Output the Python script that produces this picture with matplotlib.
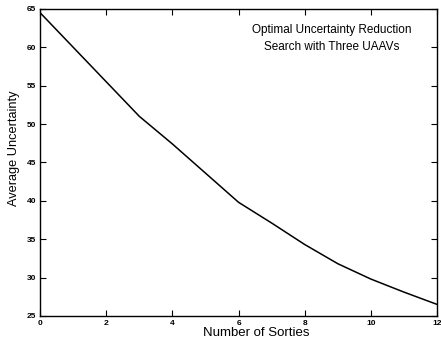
import numpy as np
import matplotlib
matplotlib.use('Agg')
import matplotlib.pyplot as plt

plt.rcParams['font.family'] = ['Liberation Sans', 'DejaVu Sans']

# data
sorties = [0, 1, 2, 3, 4, 5, 6, 7, 8, 9, 10, 11, 12]
uncertainty = [64.5, 60.0, 55.5, 51.0, 47.4, 43.6, 39.8, 37.1, 34.3, 31.8, 29.8, 28.1, 26.5]
xticks = [0, 2, 4, 6, 8, 10, 12]
yticks = [25, 30, 35, 40, 45, 50, 55, 60, 65]

fig = plt.figure(figsize=(4.41, 3.43), dpi=100)
ax = fig.add_axes([0.091, 0.079, 0.9, 0.895])

ax.plot(sorties, uncertainty, color='black', linewidth=1.1)

ax.set_xlim(0, 12)
ax.set_ylim(25, 65)
ax.set_xticks(xticks)
ax.set_yticks(yticks)
ax.tick_params(direction='in', top=True, right=True, length=4, width=0.8,
               labelsize=6, pad=3)
for lab in ax.get_xticklabels() + ax.get_yticklabels():
    lab.set_fontweight('bold')
for s in ax.spines.values():
    s.set_linewidth(1.0)

ax.set_xlabel('Number of Sorties', fontsize=9.5)
ax.xaxis.set_label_coords(0.544, -0.035)
ax.set_ylabel('Average Uncertainty', fontsize=9.2)
ax.yaxis.set_label_coords(-0.05, 0.547)

ax.text(0.735, 0.952, 'Optimal Uncertainty Reduction\nSearch with Three UAAVs',
        transform=ax.transAxes, ha='center', va='top', fontsize=8.5,
        multialignment='center', linespacing=1.6)

fig.savefig('out.png', dpi=100)
